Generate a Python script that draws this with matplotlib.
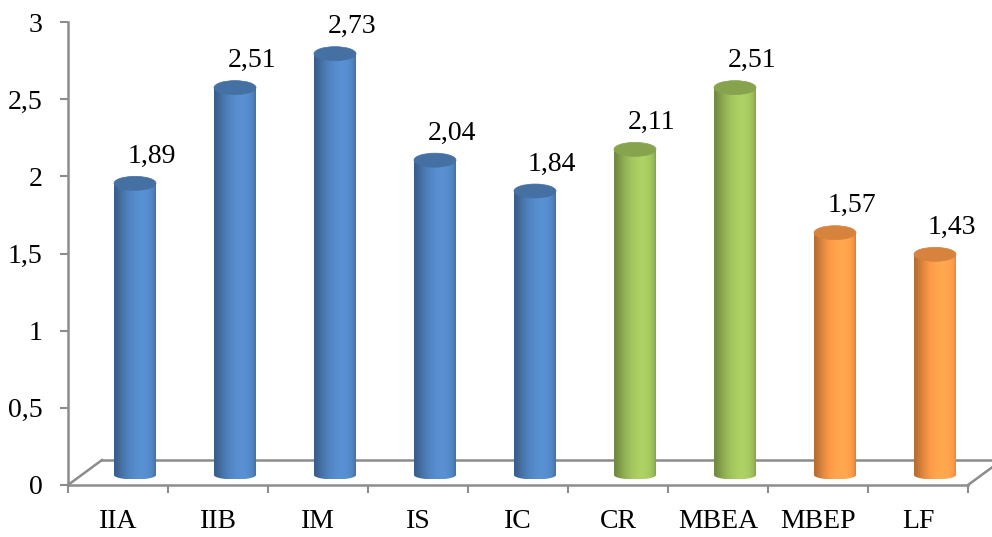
import numpy as np
import matplotlib
matplotlib.use("Agg")
import matplotlib.pyplot as plt
import matplotlib.transforms as mtransforms
from matplotlib.patches import Ellipse, Polygon
from matplotlib.colors import to_rgb

# ---- data ----
categories = ["IIA", "IIB", "IM", "IS", "IC", "CR", "MBEA", "MBEP", "LF"]
values = [1.89, 2.51, 2.73, 2.04, 1.84, 2.11, 2.51, 1.57, 1.43]
groups = ["blue", "blue", "blue", "blue", "blue", "green", "green", "orange", "orange"]
y_ticks = [0, 0.5, 1, 1.5, 2, 2.5, 3]
y_tick_labels = ["0", "0,5", "1", "1,5", "2", "2,5", "3"]

palette = {"blue": "#4F81BD", "green": "#9BBB59", "orange": "#F79646"}

plt.rcParams["font.family"] = ["Liberation Serif", "DejaVu Serif"]
FS = 20
AXIS_COLOR = "#8C8C8C"

W, H = 992, 537
fig = plt.figure(figsize=(W / 100, H / 100), dpi=100)
ax = fig.add_axes([68 / W, 52 / H, 900 / W, 463 / H])
ax.patch.set_alpha(0)

# pixels per data unit
n = len(categories)
ppx = 900 / n
ppy = 463 / 3.0

# 3-D depth of the floor (pixels) and offset of the bars (middle of the depth)
depth_dx, depth_dy = 34, 25
bar_dx, bar_dy = 17, 10
bar_off = ax.transData + mtransforms.ScaledTranslation(bar_dx / 100, bar_dy / 100, fig.dpi_scale_trans)
floor_off = ax.transData + mtransforms.ScaledTranslation(depth_dx / 100, depth_dy / 100, fig.dpi_scale_trans)

# floor: back edge and the two side edges
ax.plot([0, n], [0, 0], transform=floor_off, color=AXIS_COLOR, lw=1.8, clip_on=False, zorder=1)
for xe in (0, n):
    ax.plot([xe, xe + depth_dx / ppx], [0, depth_dy / ppy], color=AXIS_COLOR, lw=1.8,
            clip_on=False, zorder=1)

# cylinder bars
half_w = 0.21
top_h = 14 / ppy          # full height of the top ellipse in data units
bot_h = 4.5 / ppy         # half height of the bottom curve
u = np.linspace(-1, 1, 256)


def shade(base, uu):
    # light from the front, slightly to the right
    theta = np.arcsin(np.clip(uu, -1, 1))
    light = np.clip(np.cos(theta - 0.35), 0, 1)
    f = 0.74 + 0.38 * light ** 1.5
    c = np.array(to_rgb(base))[None, :] * f[:, None]
    return np.clip(c, 0, 1)


for i, (v, g) in enumerate(zip(values, groups)):
    xc = i + 0.5
    base = palette[g]
    x0, x1 = xc - half_w, xc + half_w

    # outline of the visible cylinder side: straight sides + lower half ellipse
    t = np.linspace(np.pi, 2 * np.pi, 60)
    bottom = np.column_stack([xc + half_w * np.cos(t), bot_h * np.sin(t)])
    outline = np.vstack([[[x0, v]], bottom, [[x1, v]]])
    clip = Polygon(outline, closed=True, transform=bar_off, facecolor="none", edgecolor="none")
    ax.add_patch(clip)

    grad = shade(base, u)[None, :, :]
    im = ax.imshow(grad, extent=[x0, x1, -bot_h, v], aspect="auto",
                   interpolation="bilinear", transform=bar_off, zorder=3)
    im.set_clip_path(clip)

    top_col = np.clip(np.array(to_rgb(base)) * 0.87, 0, 1)
    ax.add_patch(Ellipse((xc, v), 2 * half_w, top_h, facecolor=top_col,
                         edgecolor=top_col, lw=0.5, transform=bar_off, zorder=4, clip_on=False))
    lbl = f"{v:.2f}".replace(".", ",")
    ax.annotate(lbl, xy=(xc, v), xycoords=bar_off, xytext=(17, 27),
                textcoords="offset pixels", ha="center", va="center",
                fontsize=FS, color="black", zorder=5)

ax.set_xlim(0, n)
ax.set_ylim(0, 3)

# axes styling
for s in ("top", "right"):
    ax.spines[s].set_visible(False)
for s in ("left", "bottom"):
    ax.spines[s].set_color(AXIS_COLOR)
    ax.spines[s].set_linewidth(1.8)
    ax.spines[s].set_zorder(2)

ax.set_yticks(y_ticks)
ax.set_yticklabels(y_tick_labels, fontsize=FS)
ax.tick_params(axis="y", direction="out", length=5.5, width=1.5, color=AXIS_COLOR, pad=13)

ax.set_xticks(np.arange(n + 1))
ax.set_xticklabels([])
ax.set_xticks(np.arange(n) + 0.5, minor=True)
ax.set_xticklabels(categories, minor=True, fontsize=FS)
ax.tick_params(axis="x", which="major", direction="out", length=5.5, width=1.5, color=AXIS_COLOR)
ax.tick_params(axis="x", which="minor", length=0, pad=17)

fig.savefig("out.png", dpi=100)
